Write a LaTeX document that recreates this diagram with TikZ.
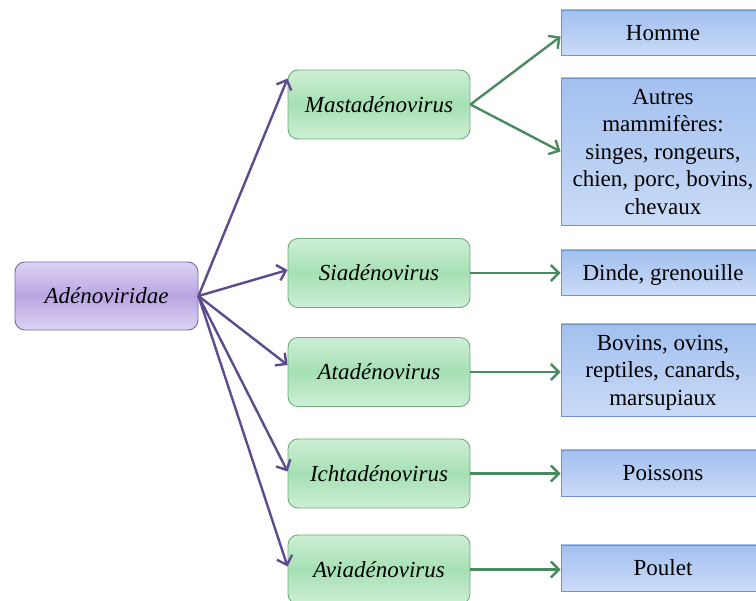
\documentclass[tikz,border=0pt]{standalone}
\usepackage{fontspec}
\setmainfont{Liberation Serif}
\usetikzlibrary{arrows.meta}
\definecolor{purpfill}{HTML}{B9A6E2}
\definecolor{purplight}{HTML}{DCD3F2}
\definecolor{purpdraw}{HTML}{7B66AE}
\definecolor{purparrow}{HTML}{5E4B8E}
\definecolor{grfill}{HTML}{A6E0B4}
\definecolor{grlight}{HTML}{CDEFD5}
\definecolor{grdraw}{HTML}{6DAE7E}
\definecolor{grarrow}{HTML}{4A8A5E}
\definecolor{blfill}{HTML}{A2C0EF}
\definecolor{bllight}{HTML}{CADBF6}
\definecolor{bldraw}{HTML}{6F93C6}
\tikzset{
  rootbox/.style={draw=purpdraw, line width=0.9pt, rounded corners=10pt,
    top color=purplight, bottom color=purplight, middle color=purpfill,
    minimum width=183pt, minimum height=68pt, inner sep=0pt, text depth=0pt,
    font=\fontsize{23}{27}\selectfont\itshape},
  genbox/.style={draw=grdraw, line width=0.9pt, rounded corners=10pt,
    top color=grlight, bottom color=grlight, middle color=grfill,
    minimum width=182pt, minimum height=69pt, inner sep=0pt, text depth=0pt,
    font=\fontsize{23}{27}\selectfont\itshape},
  hostbox/.style={draw=bldraw, line width=0.9pt,
    top color=blfill, bottom color=bllight,
    minimum width=204pt, inner sep=0pt, align=center, text depth=0pt,
    font=\fontsize{23}{27.5}\selectfont},
  parr/.style={draw=purparrow, line width=2.4pt, -{Straight Barb[length=8pt,width=16pt,line width=2.4pt]}},
  garr/.style={draw=grarrow, line width=2.4pt, -{Straight Barb[length=8pt,width=16pt,line width=2.4pt]}},
}
\begin{document}
\begin{tikzpicture}[x=1pt,y=-1pt]
\useasboundingbox (0,0) rectangle (756,601);
\clip (0,0) rectangle (756,601);
\node[rootbox] (adeno) at (106.5,296) {Adénoviridae};
\node[genbox] (mast) at (379,104.5) {Mastadénovirus};
\node[genbox] (sia) at (379,273) {Siadénovirus};
\node[genbox] (ata) at (379,372) {Atadénovirus};
\node[genbox] (icht) at (379,473.5) {Ichtadénovirus};
\node[genbox] (avia) at (379,569.5) {Aviadénovirus};
\node[hostbox, minimum height=45pt] (homme) at (663,32.5) {Homme};
\node[hostbox, minimum height=147pt] (autres) at (663,151.5) {Autres\\mammifères:\\singes, rongeurs,\\chien, porc, bovins,\\chevaux};
\node[hostbox, minimum height=45pt] (dinde) at (663,272.5) {Dinde, grenouille};
\node[hostbox, minimum height=92pt] (bovins) at (663,370) {Bovins, ovins,\\reptiles, canards,\\marsupiaux};
\node[hostbox, minimum height=46pt] (poiss) at (663,473) {Poissons};
\node[hostbox, minimum height=46pt] (poulet) at (663,568) {Poulet};
\draw[parr] (adeno.east) -- ([yshift=26pt]mast.west);
\draw[parr] (adeno.east) -- ([yshift=3pt]sia.west);
\draw[parr] (adeno.east) -- ([yshift=7pt]ata.west);
\draw[parr] (adeno.east) -- ([yshift=2pt]icht.west);
\draw[parr] (adeno.east) -- ([yshift=3pt]avia.west);
\draw[garr] (mast.east) -- ([yshift=-4pt]homme.west);
\draw[garr] (mast.east) -- (autres.west);
\draw[garr] (sia.east) -- (sia.east -| dinde.west);
\draw[garr] (ata.east) -- (ata.east -| bovins.west);
\draw[garr] (icht.east) -- (icht.east -| poiss.west);
\draw[garr] (avia.east) -- (avia.east -| poulet.west);
\end{tikzpicture}
\end{document}
